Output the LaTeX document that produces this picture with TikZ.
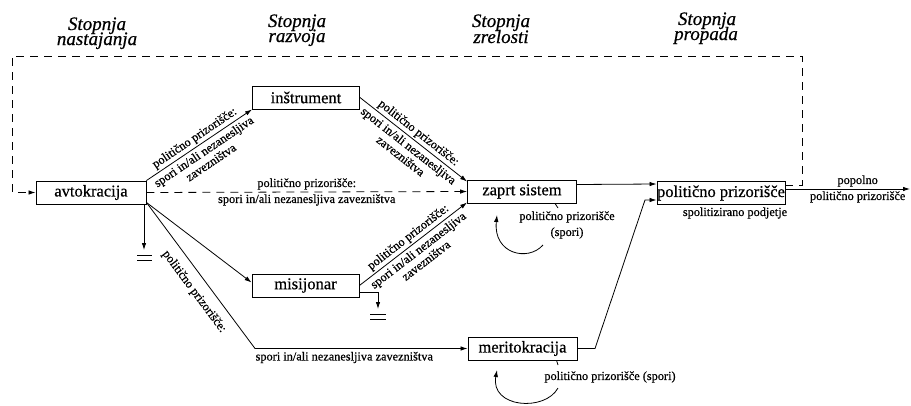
\documentclass[tikz,border=0pt]{standalone}
\usepackage{fontspec}
\setmainfont{Liberation Serif}[FakeBold=0.6]
\usetikzlibrary{arrows.meta,calc}
\begin{document}
\begin{tikzpicture}[x=1pt,y=-1pt,
  box/.style={draw, line width=0.9pt, minimum height=23pt, inner sep=0pt, font=\rmfamily\fontsize{16.5}{18}\selectfont},
  lab/.style={font=\rmfamily\fontsize{12.3}{13}\selectfont, inner sep=1pt},
  hdr/.style={font=\rmfamily\fontsize{19}{19}\selectfont\itshape, inner sep=0pt, anchor=base},
  ln/.style={line width=0.8pt},
  arr/.style={line width=0.8pt, -{Latex[length=7pt,width=4.5pt]}},
  dsh/.style={line width=0.8pt, dash pattern=on 8pt off 6pt}]
\useasboundingbox (0,0) rectangle (911,405);

% headers
\node[hdr] (h1a) at (97,30) {Stopnja};
\node[hdr] (h1b) at (97,45) {nastajanja};
\node[hdr] (h2a) at (297,27) {Stopnja};
\node[hdr] (h2b) at (297,42) {razvoja};
\node[hdr] (h3a) at (501,27) {Stopnja};
\node[hdr] (h3b) at (501,43) {zrelosti};
\node[hdr] (h4a) at (707,25) {Stopnja};
\node[hdr] (h4b) at (706,40) {propada};

% boxes
\node[box,minimum width=110pt] (avt) at (91,192.5) {avtokracija};
\node[box,minimum width=107pt] (ins) at (306,97.5) {inštrument};
\node[box,minimum width=109pt] (zap) at (522,191.5) {zaprt sistem};
\node[box,minimum width=128pt] (pp)  at (721,193) {politično prizorišče};
\node[box,minimum width=107pt] (mis) at (305.5,285.5) {misijonar};
\node[box,minimum width=109pt] (mer) at (522.5,348.5) {meritokracija};

% avtokracija -> instrument
\draw[arr] (avt.north east) --
  node[lab,sloped,above=1pt]{politično prizorišče:}
  node[lab,sloped,below=2pt,align=center]{spori in/ali nezanesljiva\\zavezništva}
  (ins.south west);
% instrument -> zaprt sistem
\draw[arr] (ins.east) --
  node[lab,sloped,above=1pt]{politično prizorišče:}
  node[lab,sloped,below=2pt,align=center]{spori in/ali nezanesljiva\\zavezništva}
  ($(zap.north west)+(0,2)$);
% dashed avtokracija -> zaprt sistem
\draw[dsh,-{Latex[length=7pt,width=4.5pt]}] (avt.east) --
  node[lab,above=1pt]{politično prizorišče:}
  node[lab,below=1pt]{spori in/ali nezanesljiva zavezništva}
  (zap.west);
% avtokracija -> misijonar
\draw[arr] ($(avt.south east)+(0,-2)$) -- ($(mis.west)+(0,-3)$);
% avtokracija -> meritokracija
\coordinate (c1) at (255,348.5);
\draw[arr] ($(avt.south east)+(0,-2)$) --
  node[lab,sloped,below=8pt,pos=0.55]{politično prizorišče:}
  (c1) --
  node[lab,below=2pt,pos=0.42]{spori in/ali nezanesljiva zavezništva}
  (mer.west);
% avtokracija ground
\coordinate (g1) at (144,250);
\draw[arr] (avt.south east -| g1) -- (g1);
\draw[ln] (137,255) -- (152,255) (137,260) -- (152,260);
% misijonar ground
\coordinate (g2) at (378,309);
\draw[arr] ($(mis.east)+(0,7)$) -| (g2);
\draw[ln] (370,314) -- (386,314) (370,319) -- (386,319);
% misijonar -> zaprt sistem
\draw[arr] (mis.east) --
  node[lab,sloped,above=1pt]{politično prizorišče:}
  node[lab,sloped,below=2pt,align=center]{spori in/ali nezanesljiva\\zavezništva}
  ($(zap.south west)+(0,-1)$);
% zaprt sistem -> politicno prizorisce
\draw[arr] ($(zap.east)+(0,-7)$) -- ($(pp.west)+(0,-9)$);
% meritokracija -> politicno prizorisce
\coordinate (c2) at (595,348.5);
\coordinate (c3) at (645,200);
\draw[arr] (mer.east) -- (c2) -- (c3) -- ($(pp.west)+(0,7)$);
% out
\coordinate (out) at (910,189);
\draw[arr] ($(pp.east)+(0,-4)$) --
  node[lab,above=1pt,pos=0.58]{popolno}
  node[lab,below=1pt,pos=0.58]{politično prizorišče}
  (out);
\node[lab] (sp) at (735,213) {spolitizirano podjetje};
% dashed feedback loop
\coordinate (d1) at (802,56);
\coordinate (d2) at (12,56);
\draw[dsh,-{Latex[length=7pt,width=4.5pt]}] ($(pp.east)+(0,-8)$) -| (d1) -- (d2) |- (avt.west);

% zaprt sistem self loop
\node[lab] (zl1) at (567,217) {politično prizorišče};
\node[lab] (zl2) at (567,233) {(spori)};
\draw[ln] ($(zap.south)+(33,0)$) -- (558,208);
\coordinate (za) at (543,245);
\coordinate (zb) at (497,215);
\draw[arr] (za) .. controls (528,262) and (493,254) .. (zb);

% meritokracija self loop
\node[lab] (ml) at (610,377) {politično prizorišče (spori)};
\draw[ln] ($(mer.south)+(34,0)$) -- (558,365);
\coordinate (ma) at (558,388);
\coordinate (mb) at (497,370);
\draw[arr] (ma) .. controls (545,412) and (490,408) .. (mb);
\end{tikzpicture}
\end{document}
